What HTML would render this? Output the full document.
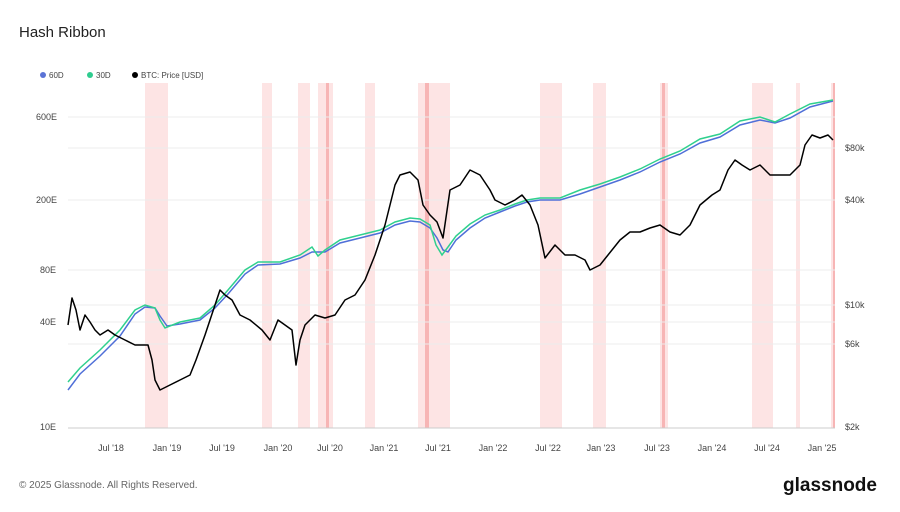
<!DOCTYPE html>
<html><head><meta charset="utf-8"><style>
body{margin:0;background:#fff;font-family:"Liberation Sans",sans-serif;}
</style></head><body>
<svg width="900" height="507" viewBox="0 0 900 507" xmlns="http://www.w3.org/2000/svg" font-family="Liberation Sans, sans-serif">
<rect width="900" height="507" fill="#fff"/>
<text x="19" y="37" font-size="15" fill="#222">Hash Ribbon</text>
<circle cx="43" cy="75" r="3" fill="#5b73d6"/><text x="49" y="78" font-size="8" fill="#444">60D</text>
<circle cx="90" cy="75" r="3" fill="#2ecc8f"/><text x="96" y="78" font-size="8" fill="#444">30D</text>
<circle cx="135" cy="75" r="3" fill="#000"/><text x="141" y="78" font-size="8" fill="#444">BTC: Price [USD]</text>
<g fill="#fde4e4">
<rect x="145" y="83" width="23" height="345"/><rect x="262" y="83" width="10" height="345"/>
<rect x="298" y="83" width="12" height="345"/><rect x="318" y="83" width="15" height="345"/>
<rect x="365" y="83" width="10" height="345"/><rect x="418" y="83" width="32" height="345"/>
<rect x="540" y="83" width="22" height="345"/><rect x="593" y="83" width="13" height="345"/>
<rect x="660" y="83" width="8" height="345"/><rect x="752" y="83" width="21" height="345"/>
<rect x="796" y="83" width="4" height="345"/><rect x="831" y="83" width="4" height="345"/>
</g>
<g fill="#f7b5b5"><rect x="425" y="83" width="4" height="345"/><rect x="326" y="83" width="3" height="345"/><rect x="662" y="83" width="3" height="345"/><rect x="833" y="83" width="2" height="345"/></g>
<g stroke="#ececec" stroke-width="1">
<line x1="68" x2="835" y1="117" y2="117"/><line x1="68" x2="835" y1="148" y2="148"/>
<line x1="68" x2="835" y1="200" y2="200"/><line x1="68" x2="835" y1="270" y2="270"/>
<line x1="68" x2="835" y1="305" y2="305"/><line x1="68" x2="835" y1="322" y2="322"/>
<line x1="68" x2="835" y1="344" y2="344"/>
</g>
<line x1="68" x2="835" y1="428" y2="428" stroke="#ccc"/>
<g font-size="9" fill="#444">
<text x="36" y="120">600E</text><text x="36" y="203">200E</text><text x="40" y="273">80E</text>
<text x="40" y="325">40E</text><text x="40" y="430">10E</text>
<text x="845" y="151">$80k</text><text x="845" y="203">$40k</text><text x="845" y="308">$10k</text>
<text x="845" y="347">$6k</text><text x="845" y="430">$2k</text>
</g>
<g font-size="9" fill="#444" text-anchor="middle">
<text x="111" y="451">Jul '18</text><text x="167" y="451">Jan '19</text><text x="222" y="451">Jul '19</text>
<text x="278" y="451">Jan '20</text><text x="330" y="451">Jul '20</text><text x="384" y="451">Jan '21</text>
<text x="438" y="451">Jul '21</text><text x="493" y="451">Jan '22</text><text x="548" y="451">Jul '22</text>
<text x="601" y="451">Jan '23</text><text x="657" y="451">Jul '23</text><text x="712" y="451">Jan '24</text>
<text x="767" y="451">Jul '24</text><text x="822" y="451">Jan '25</text>
</g>
<polyline fill="none" stroke="#4f6fd8" stroke-width="1.5" points="68,390 80,374 100,356 120,336 135,314 145,307 155,308 160,316 167,326 180,324 200,320 215,308 228,294 245,274 258,265 280,264 300,258 312,252 325,252 340,243 360,238 380,233 395,225 410,221 420,222 430,228 437,238 443,250 448,252 456,240 470,228 485,218 500,212 515,206 527,202 540,200 560,200 580,194 600,187 620,180 640,172 660,162 680,154 700,143 720,137 740,125 760,120 775,123 790,118 810,107 833,101"/>
<polyline fill="none" stroke="#2fd08e" stroke-width="1.5" points="68,382 80,368 100,350 120,330 135,310 145,305 155,308 160,320 165,328 180,322 200,318 215,305 228,290 245,270 258,262 280,262 300,255 312,247 318,256 325,250 340,240 360,235 380,230 395,222 410,218 420,219 430,225 436,245 442,255 448,247 456,236 470,224 485,215 500,210 515,204 527,200 540,198 560,198 580,190 600,184 620,177 640,169 660,159 680,151 700,139 720,134 740,121 760,117 775,122 790,114 810,104 833,100"/>
<polyline fill="none" stroke="#000" stroke-width="1.5" stroke-linejoin="round" points="68,325 72,298 76,310 80,330 85,315 90,322 95,330 100,335 108,330 115,335 125,340 135,345 148,345 152,360 155,380 160,390 170,385 180,380 190,375 196,360 205,335 215,305 220,290 225,295 232,300 240,315 250,320 262,330 270,340 278,320 285,325 292,330 296,365 300,340 305,325 315,315 325,318 335,315 345,300 355,295 365,280 375,255 385,225 390,205 395,185 400,175 410,172 418,180 423,205 430,215 437,222 443,238 450,190 460,185 470,170 480,175 490,190 495,200 505,205 515,200 522,195 530,205 538,225 545,258 555,245 565,255 575,255 585,260 590,270 600,265 608,255 620,240 630,232 640,232 650,228 660,225 670,232 680,235 690,225 700,205 712,195 720,190 728,170 735,160 742,165 750,170 760,165 770,175 780,175 790,175 800,165 805,145 812,135 820,138 828,135 833,140"/>
<text x="19" y="488" font-size="10" fill="#666">© 2025 Glassnode. All Rights Reserved.</text>
<text x="783" y="491" font-size="19" font-weight="bold" fill="#111">glassnode</text>
</svg>
</body></html>
